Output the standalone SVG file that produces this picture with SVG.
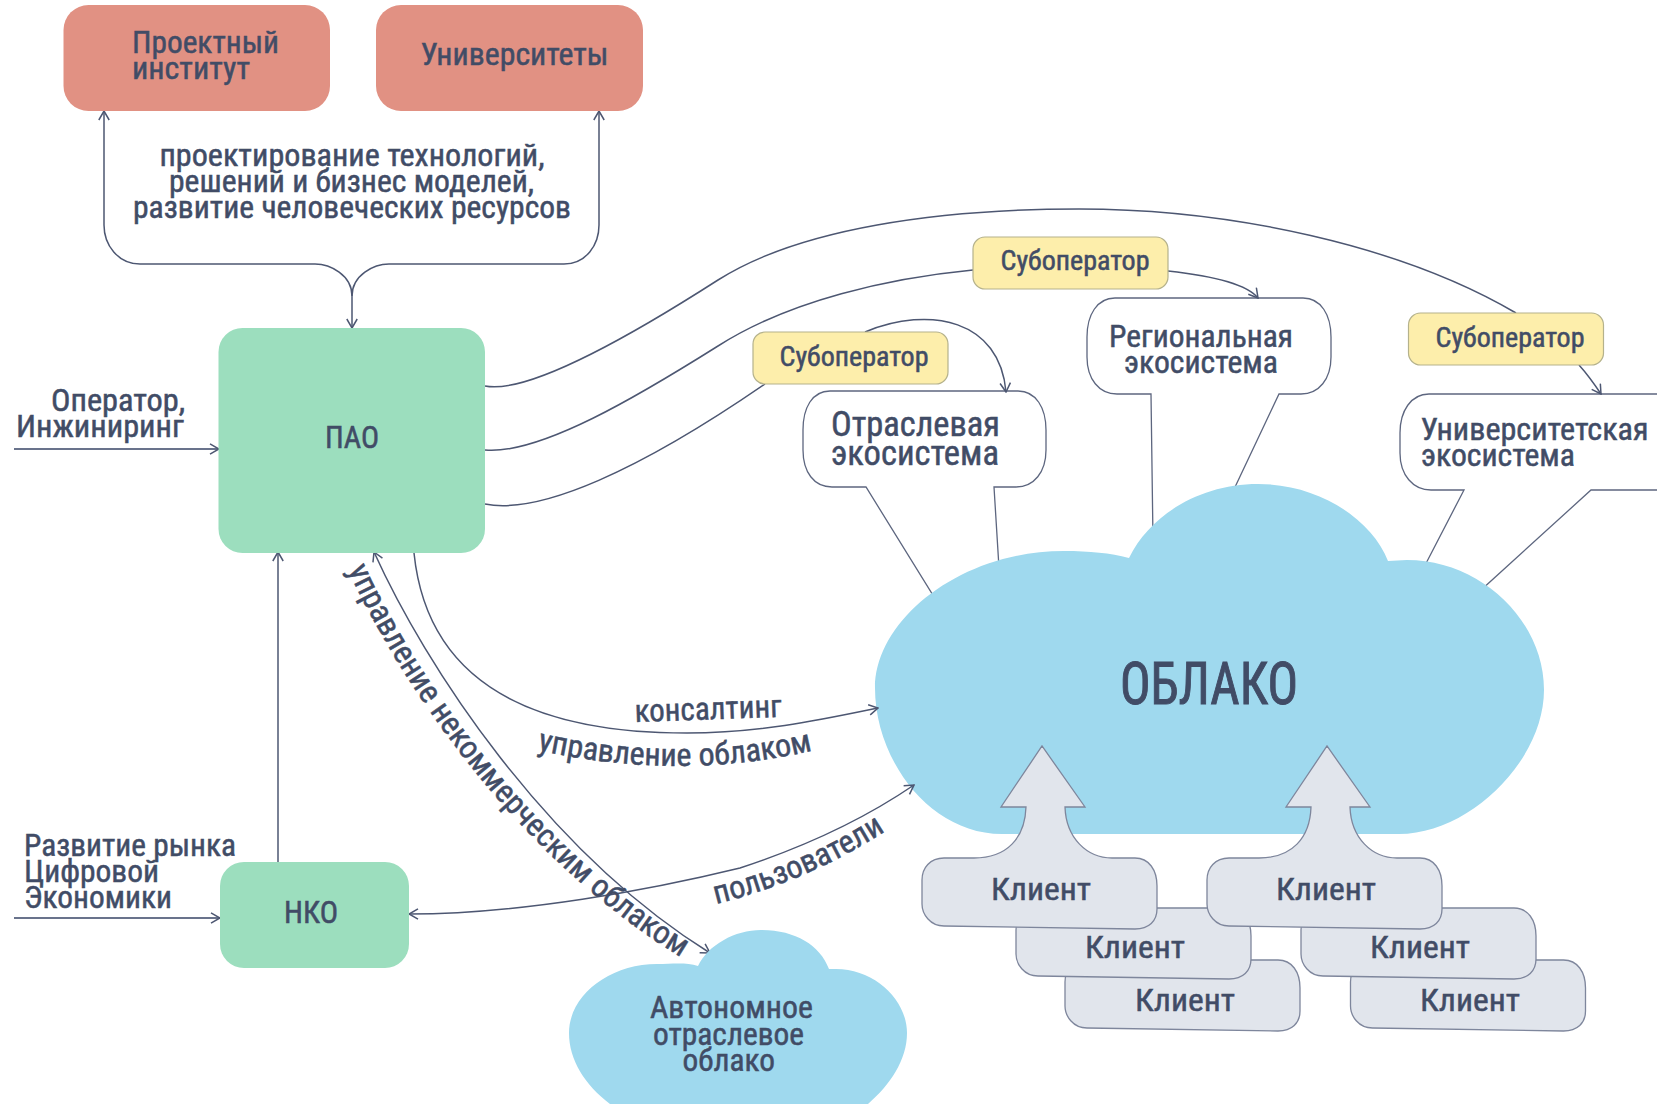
<svg xmlns="http://www.w3.org/2000/svg" xmlns:xlink="http://www.w3.org/1999/xlink" width="1657" height="1104" viewBox="0 0 1657 1104">
<style>
text{font-family:"Liberation Sans Narrow","Roboto Condensed","Liberation Sans",sans-serif;fill:#414c66;font-size:32px;stroke:#414c66;stroke-width:.5px}
.s{font-size:27px}
.m{font-size:35px}
.xl{font-size:60px;stroke-width:1px}
.c{font-size:32px}
.line{fill:none;stroke:#4d5772;stroke-width:1.5}
.thick{stroke:#69738c;stroke-width:2}
.arr{marker-end:url(#a)}
.both{marker-start:url(#a);marker-end:url(#a)}
.pink{fill:#e19183}
.green{fill:#9cdebe}
.blue{fill:#9fd9ee}
.sub{fill:#fdeeab;stroke:#b5b28c;stroke-width:1.2}
.call{fill:#fff;stroke:#5d667f;stroke-width:1.3}
.cl{fill:#e1e5ec;stroke:#7e869c;stroke-width:1.3}
</style>
<defs>
<marker id="a" viewBox="0 0 12 12" refX="11" refY="6" markerWidth="12" markerHeight="12" markerUnits="userSpaceOnUse" orient="auto-start-reverse"><path d="M2 .8 L11 6 L2 11.2" fill="none" stroke="#4d5772" stroke-width="1.5"/></marker>
<path id="card" d="M22 0H213C227 0 235 12 235 28V51C235 63 227 71 213 71L22 68C8 68 0 56 0 46V22C0 10 8 0 22 0Z"/>
<path id="cardArrow" d="M22 0H52C85 0 103 -20 104 -51H79L120 -112L163 -51H143C144 -20 165 0 190 0H213C227 0 235 12 235 28V51C235 63 227 71 213 71L22 68C8 68 0 56 0 46V22C0 10 8 0 22 0Z"/>
<path id="p1" d="M537 750Q680 782 815 750"/>
<path id="p2" d="M716 904Q813 880 893 826"/>
<path id="p3" d="M348 570C401 685 521 865 694 965"/>
</defs>
<g id="callout-branch"><path class="call" d="M830 391H1018C1036 391 1046 408 1046 430V450C1046 472 1034 487 1016 487H994L1001 600H936L866 487H832C814 487 803 472 803 450V430C803 408 812 391 830 391Z"/></g>
<g id="callout-region"><path class="call" d="M1115 298H1303C1321 298 1331 315 1331 337V357C1331 379 1319 394 1301 394H1279L1210 540H1153L1151 394H1117C1099 394 1087 379 1087 357V337C1087 315 1097 298 1115 298Z"/></g>
<g id="callout-univ"><path class="call" d="M1429 394H1670V490H1591L1470 600H1407L1464 490H1431C1413 490 1400 475 1400 453V433C1400 411 1411 394 1429 394Z"/></g>
<g id="cloud"><path class="blue" d="M1002 834C930 834 875 760 875 688C875 620 960 551 1064 551C1090 551 1110 553 1129 558C1150 515 1200 484 1258 484C1320 484 1372 520 1388 561C1395 561 1400 560 1407 560C1480 560 1544 620 1544 690C1544 760 1470 834 1399 834Z"/><text class="xl" x="1120" y="704" textLength="178" lengthAdjust="spacingAndGlyphs">ОБЛАКО</text></g>
<g id="connectors">
<path class="line arr" d="M352 296C352 275 330 264 315 264H140C118 264 104 245 104 225V111"/>
<path class="line arr" d="M352 296C352 275 374 264 389 264H564C586 264 599 245 599 225V111"/>
<path class="line arr" d="M352 296V328"/>
<path class="line thick arr" d="M14 449H219"/>
<path class="line thick arr" d="M14 918H220"/>
<path class="line arr" d="M278 862V552"/>
<path class="line" d="M485 386C530 395 640 330 718 280C800 228 940 209 1079 209C1230 209 1400 245 1516 313"/>
<path class="line" d="M485 450C540 455 640 395 718 346C790 300 890 278 973 270"/>
<path class="line" d="M485 504C540 515 640 470 765 384"/>
<path class="line arr" d="M1168 271C1205 275 1245 282 1258 298"/>
<path class="line arr" d="M865 332C930 305 1000 320 1006 392"/>
<path class="line arr" d="M1579 365C1588 375 1595 385 1601 394"/>
<path class="line arr" d="M414 553C425 660 500 733 687 733C760 733 820 720 878 708"/>
<path class="line both" d="M374 552C425 665 545 850 710 953"/>
<path class="line both" d="M409 914C520 914 650 890 740 868C810 845 870 815 914 785"/>
</g>
<g id="node-institute"><rect class="pink" x="63.5" y="5" width="266.5" height="106" rx="25"/><text x="132" y="53" textLength="147" lengthAdjust="spacingAndGlyphs">Проектный</text><text x="132" y="79" textLength="118" lengthAdjust="spacingAndGlyphs">институт</text></g>
<g id="node-univ"><rect class="pink" x="376" y="5" width="267" height="106" rx="25"/><text x="420.5" y="65" textLength="188" lengthAdjust="spacingAndGlyphs">Университеты</text></g>
<g id="node-pao"><rect class="green" x="218.5" y="328" width="266.5" height="225" rx="24"/><text x="325" y="448" textLength="54" lengthAdjust="spacingAndGlyphs">ПАО</text></g>
<g id="node-nko"><rect class="green" x="220" y="862" width="189" height="106" rx="24"/><text x="284" y="923" textLength="54" lengthAdjust="spacingAndGlyphs">НКО</text></g>
<g id="node-sub1"><rect class="sub" x="753" y="332" width="195" height="52" rx="12"/><text class="s" x="779.5" y="366" textLength="149" lengthAdjust="spacingAndGlyphs">Субоператор</text></g>
<g id="node-sub2"><rect class="sub" x="973" y="237" width="195" height="52" rx="12"/><text class="s" x="1000.5" y="270" textLength="149" lengthAdjust="spacingAndGlyphs">Субоператор</text></g>
<g id="node-sub3"><rect class="sub" x="1408.5" y="313" width="195" height="52" rx="12"/><text class="s" x="1435.5" y="347" textLength="149" lengthAdjust="spacingAndGlyphs">Субоператор</text></g>
<g id="labels">
<text x="159.5" y="166" textLength="385" lengthAdjust="spacingAndGlyphs">проектирование технологий,</text>
<text x="169" y="192" textLength="365" lengthAdjust="spacingAndGlyphs">решений и бизнес моделей,</text>
<text x="133" y="218" textLength="438" lengthAdjust="spacingAndGlyphs">развитие человеческих ресурсов</text>
<text x="51" y="411" textLength="134" lengthAdjust="spacingAndGlyphs">Оператор,</text>
<text x="16" y="437" textLength="168" lengthAdjust="spacingAndGlyphs">Инжиниринг</text>
<text x="24" y="856" textLength="212" lengthAdjust="spacingAndGlyphs">Развитие рынка</text>
<text x="24" y="882" textLength="135" lengthAdjust="spacingAndGlyphs">Цифровой</text>
<text x="24" y="908" textLength="148" lengthAdjust="spacingAndGlyphs">Экономики</text>
<text x="1109" y="347" textLength="184" lengthAdjust="spacingAndGlyphs">Региональная</text>
<text x="1124" y="373" textLength="154" lengthAdjust="spacingAndGlyphs">экосистема</text>
<text class="m" x="831" y="436" textLength="169" lengthAdjust="spacingAndGlyphs">Отраслевая</text>
<text class="m" x="831" y="465" textLength="168" lengthAdjust="spacingAndGlyphs">экосистема</text>
<text x="1420.5" y="440" textLength="228" lengthAdjust="spacingAndGlyphs">Университетская</text>
<text x="1421" y="466" textLength="154" lengthAdjust="spacingAndGlyphs">экосистема</text>
<text transform="rotate(-2 635 722)" x="635" y="722" textLength="147" lengthAdjust="spacingAndGlyphs">консалтинг</text>
<text class="c"><textPath href="#p1" xlink:href="#p1">управление облаком</textPath></text>
<text class="c"><textPath href="#p2" xlink:href="#p2">пользователи</textPath></text>
<text class="c"><textPath href="#p3" xlink:href="#p3">управление некоммерческим облаком</textPath></text>
</g>
<g id="node-auto"><path class="blue" d="M610 1104C585 1085 569 1060 569 1033C569 995 610 964 657 964C672 964 686 962 698 966C708 945 735 930 761 930C795 930 820 945 829 969L836 969C875 969 907 1000 907 1033C907 1060 890 1085 868 1104Z"/>
<text x="650" y="1018" textLength="163" lengthAdjust="spacingAndGlyphs">Автономное</text>
<text x="653" y="1045" textLength="151" lengthAdjust="spacingAndGlyphs">отраслевое</text>
<text x="682.5" y="1071" textLength="92.5" lengthAdjust="spacingAndGlyphs">облако</text></g>
<g id="clients-a">
<g id="client-a3"><use class="cl" href="#card" xlink:href="#card" transform="translate(1065 960)"/><text x="1135" y="1011" textLength="100" lengthAdjust="spacingAndGlyphs">Клиент</text></g>
<g id="client-a2"><use class="cl" href="#card" xlink:href="#card" transform="translate(1016 908)"/><text x="1085" y="958" textLength="100" lengthAdjust="spacingAndGlyphs">Клиент</text></g>
<g id="client-a1"><use class="cl" href="#cardArrow" xlink:href="#cardArrow" transform="translate(922 858)"/><text x="991" y="900" textLength="100" lengthAdjust="spacingAndGlyphs">Клиент</text></g>
</g>
<g id="clients-b">
<g id="client-b3"><use class="cl" href="#card" xlink:href="#card" transform="translate(1350.5 960)"/><text x="1420" y="1011" textLength="100" lengthAdjust="spacingAndGlyphs">Клиент</text></g>
<g id="client-b2"><use class="cl" href="#card" xlink:href="#card" transform="translate(1301 908)"/><text x="1370" y="958" textLength="100" lengthAdjust="spacingAndGlyphs">Клиент</text></g>
<g id="client-b1"><use class="cl" href="#cardArrow" xlink:href="#cardArrow" transform="translate(1207 858)"/><text x="1276" y="900" textLength="100" lengthAdjust="spacingAndGlyphs">Клиент</text></g>
</g>
</svg>
